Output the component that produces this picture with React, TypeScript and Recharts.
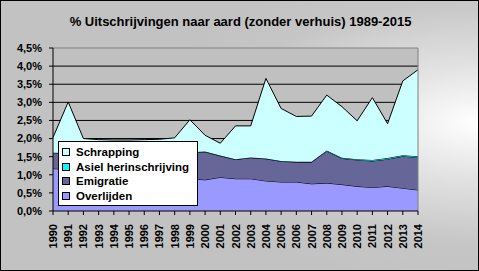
import React from 'react';
import {
  AreaChart, Area, XAxis, YAxis, CartesianGrid, ReferenceLine,
} from 'recharts';

const YEARS = [
  '1990', '1991', '1992', '1993', '1994', '1995', '1996', '1997', '1998', '1999',
  '2000', '2001', '2002', '2003', '2004', '2005', '2006', '2007', '2008', '2009',
  '2010', '2011', '2012', '2013', '2014',
];

// shares in % of population, per year
const OVERLIJDEN = [
  1.17, 1.15, 1.12, 1.10, 1.07, 1.04, 1.00, 0.96, 0.92, 0.89,
  0.86, 0.93, 0.89, 0.89, 0.83, 0.80, 0.80, 0.75, 0.77, 0.73,
  0.68, 0.65, 0.68, 0.63, 0.58,
];
const EMIGRATIE = [
  0.44, 0.45, 0.48, 0.50, 0.53, 0.55, 0.59, 0.63, 0.67, 0.72,
  0.77, 0.59, 0.53, 0.58, 0.61, 0.57, 0.55, 0.60, 0.88, 0.72,
  0.73, 0.73, 0.75, 0.88, 0.90,
];
const ASIEL = [
  0, 0, 0, 0, 0, 0.01, 0.01, 0.01, 0.01, 0.01,
  0.01, 0.01, 0.01, 0.01, 0.01, 0.01, 0.01, 0.01, 0.02, 0.02,
  0.02, 0.03, 0.03, 0.03, 0.03,
];
const SCHRAPPING = [
  0.42, 1.41, 0.40, 0.37, 0.36, 0.36, 0.37, 0.38, 0.42, 0.90,
  0.45, 0.34, 0.92, 0.87, 2.21, 1.45, 1.25, 1.26, 1.53, 1.41,
  1.06, 1.72, 0.95, 2.05, 2.39,
];

const Y_TICKS = [0, 0.5, 1, 1.5, 2, 2.5, 3, 3.5, 4, 4.5];
const GRID_VALUES = [0.5, 1, 1.5, 2, 2.5, 3, 3.5, 4];

const LEGEND_ITEMS = [
  { label: 'Schrapping', color: '#ccffff' },
  { label: 'Asiel herinschrijving', color: '#00ffff' },
  { label: 'Emigratie', color: '#666699' },
  { label: 'Overlijden', color: '#9999ff' },
];

const data = YEARS.map((y, i) => ({
  year: y,
  overlijden: OVERLIJDEN[i],
  emigratie: EMIGRATIE[i],
  asiel: ASIEL[i],
  schrapping: SCHRAPPING[i],
}));

const FONT = '"Liberation Sans", Arial, sans-serif';

const fmtPct = (v: number) => v.toFixed(1).replace('.', ',') + '%';

function YearTick({ x, y, payload }: any) {
  return (
    <g transform={`translate(${x + 4}, ${y + 7}) rotate(-90)`}>
      <text x={0} y={0} textAnchor="end" fontSize={11} fontWeight="bold" fontFamily={FONT} fill="#000">
        {payload.value}
      </text>
    </g>
  );
}

function LegendBox() {
  return (
    <div
      style={{
        position: 'absolute', left: 57, top: 140, width: 140, height: 65, boxSizing: 'border-box',
        background: '#fff', border: '1px solid #000', padding: '3px 0 0 3px', fontFamily: FONT,
      }}
    >
      {LEGEND_ITEMS.map((it) => (
        <div key={it.label} style={{ display: 'flex', alignItems: 'center', height: 14.5 }}>
          <span
            style={{
              width: 8, height: 8, boxSizing: 'border-box', border: '1px solid #000',
              background: it.color, marginRight: 6, flexShrink: 0,
            }}
          />
          <span style={{ fontSize: 11.5, fontWeight: 'bold', color: '#000', lineHeight: '14px', whiteSpace: 'nowrap' }}>
            {it.label}
          </span>
        </div>
      ))}
    </div>
  );
}

export default function App() {
  return (
    <div
      style={{
        position: 'absolute', left: 0, top: 0, width: 479, height: 271, boxSizing: 'border-box',
        border: '1px solid #000',
        background: 'radial-gradient(ellipse 70% 60% at 100% 45%, #ffffff 0%, #e2e2e2 35%, #c6c6c6 75%, #c2c2c2 100%)',
      }}
    >
      <div
        style={{
          position: 'absolute', left: 0, top: 13, width: 479, textAlign: 'center',
          fontFamily: FONT, fontWeight: 'bold', fontSize: 13, color: '#000',
        }}
      >
        % Uitschrijvingen naar aard (zonder verhuis) 1989-2015
      </div>
      <div style={{ position: 'absolute', left: -1, top: -1 }}>
        <AreaChart width={479} height={271} data={data} margin={{ top: 48, right: 61, left: 0, bottom: 0 }}>
          <CartesianGrid vertical={false} horizontalValues={GRID_VALUES} stroke="#000" fill="#c0c0c0" />
          <XAxis
            dataKey="year"
            interval={0}
            height={60}
            tick={<YearTick />}
            tickSize={4}
            axisLine={{ stroke: '#000' }}
            tickLine={{ stroke: '#000' }}
          />
          <YAxis
            width={53}
            domain={[0, 4.5]}
            ticks={Y_TICKS}
            interval={0}
            tickFormatter={fmtPct}
            tickSize={4}
            tickMargin={7}
            axisLine={{ stroke: '#000' }}
            tickLine={{ stroke: '#000' }}
            tick={{ fontSize: 11, fontWeight: 'bold', fontFamily: FONT, fill: '#000' }}
          />
          <ReferenceLine y={4.5} stroke="#808080" />
          <ReferenceLine x="2014" stroke="#808080" />
          <Area type="linear" dataKey="overlijden" name="Overlijden" stackId="a" fill="#9999ff" fillOpacity={1} stroke="#000" strokeWidth={1} isAnimationActive={false} />
          <Area type="linear" dataKey="emigratie" name="Emigratie" stackId="a" fill="#666699" fillOpacity={1} stroke="#000" strokeWidth={1} isAnimationActive={false} />
          <Area type="linear" dataKey="asiel" name="Asiel herinschrijving" stackId="a" fill="#00ffff" fillOpacity={1} stroke="#000" strokeWidth={1} isAnimationActive={false} />
          <Area type="linear" dataKey="schrapping" name="Schrapping" stackId="a" fill="#ccffff" fillOpacity={1} stroke="#000" strokeWidth={1} isAnimationActive={false} />
        </AreaChart>
      </div>
      <LegendBox />
    </div>
  );
}
